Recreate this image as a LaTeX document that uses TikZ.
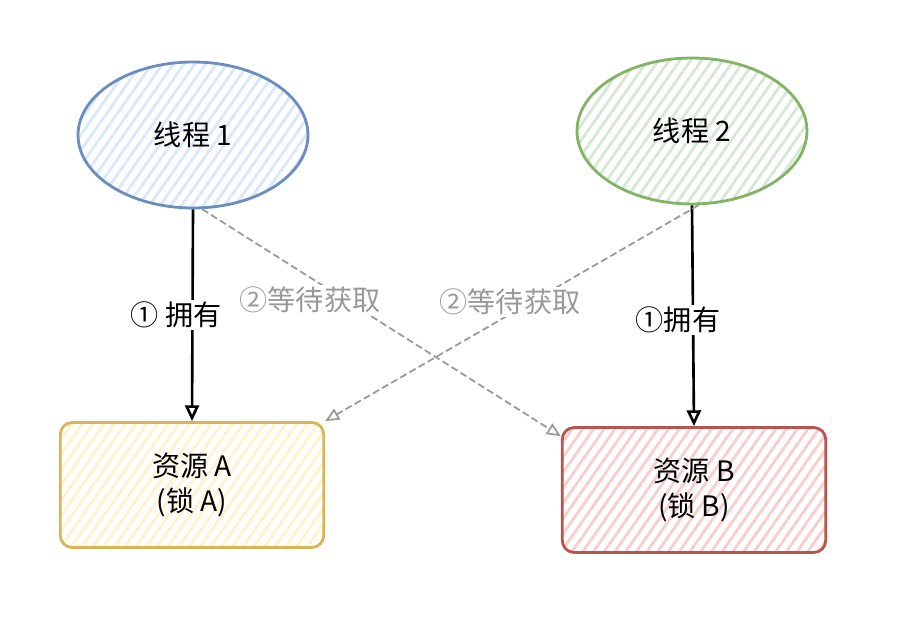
\documentclass[tikz,border=0pt]{standalone}
\usepackage{fontspec}
\newfontfamily\cjk{Noto Sans CJK SC}
\usetikzlibrary{arrows.meta,shapes.geometric,patterns.meta}
\definecolor{bluefill}{HTML}{DAE8FC}
\definecolor{bluedraw}{HTML}{6C8EBF}
\definecolor{greenfill}{HTML}{D5E8D4}
\definecolor{greendraw}{HTML}{82B366}
\definecolor{yellowfill}{HTML}{FFF2CC}
\definecolor{yellowdraw}{HTML}{D6B656}
\definecolor{redfill}{HTML}{F8CECC}
\definecolor{reddraw}{HTML}{B85450}
\definecolor{waitgray}{HTML}{999999}
\tikzset{
  txt/.style={font=\cjk\fontsize{16}{20}\selectfont},
  hatch/.style={pattern={Lines[angle=55,distance=5pt,line width=1.6pt]}, pattern color=#1},
  thread/.style={ellipse, txt, line width=1.6pt, inner sep=0pt,
    minimum width=4.6cm, minimum height=2.92cm},
  res/.style={rectangle, txt, rounded corners=0.24cm, line width=1.6pt, align=center,
    minimum width=5.27cm, minimum height=2.5cm},
  own/.style={-{Triangle[open,length=9pt,width=8pt]}, line width=1.5pt},
  wait/.style={-{Triangle[open,length=8pt,width=7pt]}, dash pattern=on 4pt off 2pt,
    draw=waitgray, line width=1pt},
  lbl/.style={txt, fill=white, inner sep=1pt},
}
\begin{document}
\begin{tikzpicture}[x=0.02cm,y=-0.02cm]
\useasboundingbox (0,0) rectangle (914,618);
% threads
\node[thread, draw=bluedraw, hatch=bluefill] (t1) at (193,135) {线程 1};
\node[thread, draw=greendraw, hatch=greenfill] (t2) at (692,131) {线程 2};
% resources
\node[res, draw=yellowdraw, hatch=yellowfill] (ra) at (192,485) {资源 A\\(锁 A)};
\node[res, draw=reddraw, hatch=redfill] (rb) at (694,490) {资源 B\\(锁 B)};
% held locks
\draw[own] (t1.south) -- (ra.north);
\draw[own] (t2.south) -- (rb.north);
% waiting
\draw[wait] (t1.-83) -- (rb.158);
\draw[wait] (t2.-85) -- (ra.north east);
\node[lbl] (h1) at (176,315) {① 拥有};
\node[lbl] (h2) at (678,320) {①拥有};
\node[lbl, text=waitgray] (w1) at (310,300) {②等待获取};
\node[lbl, text=waitgray] (w2) at (510,302) {②等待获取};
\end{tikzpicture}
\end{document}
